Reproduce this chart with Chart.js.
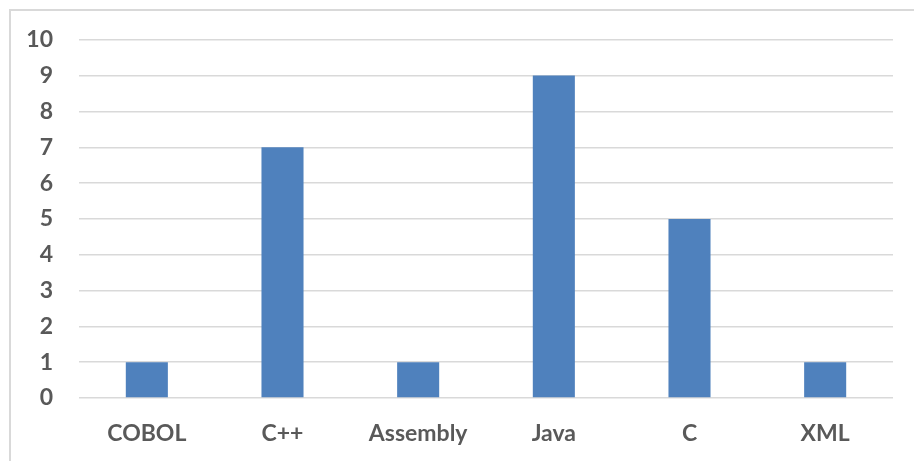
<!DOCTYPE html>
<html>
<head>
<meta charset="utf-8">
<script src="https://cdn.jsdelivr.net/npm/chart.js@4/dist/chart.umd.min.js"></script>
<style>
  html, body { margin: 0; padding: 0; background: #fff; }
  #wrap { position: relative; width: 914px; height: 461px; }
  #frame {
    position: absolute; left: 9px; top: 9px; right: 0; bottom: 0;
    border-top: 2px solid #d9d9d9; border-left: 2px solid #d9d9d9;
  }
  canvas { position: absolute; left: 0; top: 0; }
</style>
</head>
<body>
<div id="wrap">
  <div id="frame"></div>
  <canvas id="chart" width="914" height="461"></canvas>
</div>
<script>
// categories and values
const languages = ['COBOL', 'C++', 'Assembly', 'Java', 'C', 'XML'];
const counts = [1, 7, 1, 9, 5, 1];
const yTicks = [0, 1, 2, 3, 4, 5, 6, 7, 8, 9, 10];

const labelFont = { family: 'Lato, "Open Sans", sans-serif', size: 23, weight: 'bold' };
const textColor = '#595959';

new Chart(document.getElementById('chart'), {
  type: 'bar',
  data: {
    labels: languages,
    datasets: [{
      data: counts,
      backgroundColor: '#4f81bd',
      borderWidth: 0,
      categoryPercentage: 1,
      barPercentage: 0.31,
    }],
  },
  options: {
    responsive: false,
    animation: false,
    layout: { padding: { top: 38, right: 21, left: 0, bottom: 0 } },
    plugins: { legend: { display: false }, tooltip: { enabled: false } },
    scales: {
      x: {
        grid: { display: false },
        border: { display: false },
        ticks: { color: textColor, font: labelFont, padding: 14, maxRotation: 0 },
        afterFit: (s) => { s.height = 63; },
      },
      y: {
        min: 0,
        max: 10,
        afterBuildTicks: (s) => { s.ticks = yTicks.map((v) => ({ value: v })); },
        grid: { color: '#d9d9d9', lineWidth: 1.5, drawTicks: false },
        border: { display: false },
        ticks: { color: textColor, font: labelFont, padding: 26 },
        afterFit: (s) => { s.width = 79; },
      },
    },
  },
});
</script>
</body>
</html>
